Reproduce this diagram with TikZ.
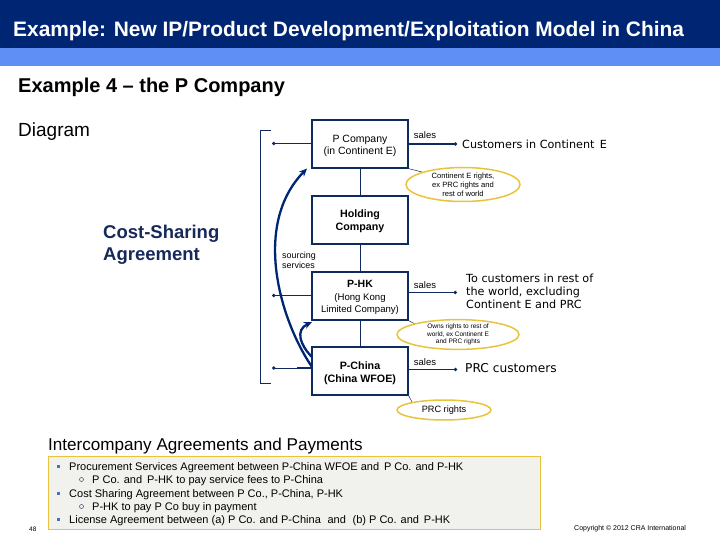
\documentclass[tikz,border=0pt]{standalone}
\usepackage{fontspec}
\setmainfont{Liberation Sans}
\newfontfamily\dvfont{DejaVu Sans}
\usetikzlibrary{arrows.meta,shapes.geometric}
\definecolor{navy}{HTML}{002673}
\definecolor{lineblue}{HTML}{0F2A5C}
\definecolor{band}{HTML}{5F8FF5}
\definecolor{gold}{HTML}{E8C33C}
\definecolor{panel}{HTML}{F1F1EE}
\definecolor{csblue}{HTML}{16295A}
\tikzset{
  x=1pt,y=-1pt,
  entity/.style={draw=lineblue,line width=1.3pt,fill=white,minimum width=96pt,minimum height=48pt,align=center,inner sep=0pt,font=\fontsize{10.5}{12}\selectfont},
  entityb/.style={entity,font=\bfseries\fontsize{10.7}{13}\selectfont},
  conn/.style={draw=lineblue,line width=0.9pt},
  flow/.style={draw=lineblue,line width=1pt,-{Circle[length=3.5pt]}},
  flowthick/.style={draw=lineblue,line width=1.7pt,-{Circle[length=3pt]}},
  stub/.style={draw=lineblue,line width=1.7pt},
  rights/.style={draw=gold,line width=1.5pt,ellipse,fill=white,align=center,inner sep=0pt},
  leader/.style={draw=lineblue,line width=0.5pt},
  small/.style={font=\fontsize{9.5}{10}\selectfont,inner sep=0pt},
  dest/.style={font=\dvfont\fontsize{11.2}{13}\selectfont,anchor=west,align=left,inner sep=0pt},
  curved/.style={draw=navy,line width=2.3pt,-{Stealth[length=8pt,width=7pt]}},
  heading/.style={anchor=west,inner sep=0pt},
  panelitem/.style={anchor=west,inner sep=0pt,font=\fontsize{11}{13}\selectfont}
}
\newcommand{\hkline}[1]{{\fontsize{9.6}{12}\selectfont #1}}
\newcommand{\dn}[1]{\rule{0pt}{#1pt}}
\begin{document}
\begin{tikzpicture}
\useasboundingbox (0,0) rectangle (720,540);
\fill[navy] (0,0) rectangle (720,48);
\fill[band] (0,48) rectangle (720,66);
\node[heading,text=white,font=\bfseries\fontsize{20.9}{24}\selectfont] (title) at (13,31) {Example: New IP/Product Development/Exploitation Model in China};
\node[heading,font=\bfseries\fontsize{20}{24}\selectfont] (sub) at (18,87) {Example 4 -- the P Company};
\node[heading,font=\fontsize{19}{22}\selectfont] (diag) at (18,132) {Diagram};
\node[heading,align=left,text=csblue,font=\bfseries\fontsize{18.5}{22}\selectfont] (cs) at (103,245) {Cost-Sharing\\Agreement};

\coordinate (bt) at (271,130); \coordinate (bb) at (271,383);
\draw[lineblue,line width=0.7pt] (bt) -- (260,130) -- (260,383) -- (bb);

\node[entity] (pco) at (360,144) {\dn{12}P Company\\(in Continent E)};
\node[entityb] (hold) at (360,220) {\dn{10}Holding\\Company};
\node[entity] (phk) at (360,296) {\dn{10}\textbf{P-HK}\\[1pt]\hkline{(Hong Kong}\\\hkline{Limited Company)}};
\node[entityb] (pcn) at (360,371) {\dn{12}P-China\\(China WFOE)};

\draw[conn] (pco) -- (hold);
\draw[conn] (hold) -- (phk);
\draw[conn] (phk) -- (pcn);

\coordinate (l1) at (272,143.5); \coordinate (l2) at (272,295.5); \coordinate (l3) at (272,368);
\coordinate (m1) at (297,143.5); \coordinate (m2) at (297,295.5); \coordinate (m3) at (297,368);
\draw[flow] (pco.west |- l1) -- (l1);
\draw[flow] (phk.west |- l2) -- (l2);
\draw[flow] (pcn.west |- l3) -- (l3);
\draw[stub] (pco.west |- m1) -- (m1);
\draw[stub] (phk.west |- m2) -- (m2);
\draw[stub] (pcn.west |- m3) -- (m3);

\node[dest] (c1) at (462,144) {Customers in Continent\, E};
\node[dest] (c2) at (466,291.5) {To customers in rest of\\the world, excluding\\Continent E and PRC};
\node[dest,font=\dvfont\fontsize{12.2}{14}\selectfont] (c3) at (465,368.5) {PRC customers};
\coordinate (e1) at (457,144); \coordinate (e2) at (457,292.5); \coordinate (e3) at (457,369.5);
\draw[flowthick] (pco.east |- e1) -- (e1);
\draw[flow] (phk.east |- e2) -- (e2);
\draw[flowthick] (pcn.east |- e3) -- (e3);

\node[small] (s1) at (425,135) {sales};
\node[small] (s2) at (425,285) {sales};
\node[small] (s3) at (425,362) {sales};
\node[small,anchor=west,align=left,font=\fontsize{8.9}{10}\selectfont] (src) at (282,260) {sourcing\\services};

\coordinate (a1) at (312,367); \coordinate (a2) at (307,168.5);
\coordinate (b1) at (312,357); \coordinate (b2) at (312,322);
\draw[curved] (a1) .. controls (280,320) and (252,225) .. (a2);
\draw[curved] (b1) .. controls (300,345) and (295,330) .. (b2);

\coordinate (q1) at (422,172); \coordinate (q2) at (415,324); \coordinate (q3) at (412,402);
\draw[leader] (pco.south east) -- (q1);
\draw[leader] (phk.south east) -- (q2);
\draw[leader] (pcn.south east) -- (q3);
\node[rights,minimum width=114pt,minimum height=34pt,font=\fontsize{7.6}{9}\selectfont] (r1) at (463,184.5) {Continent E rights,\\ex PRC rights and\\rest of world};
\node[rights,minimum width=122pt,minimum height=26pt,font=\fontsize{6.5}{7.5}\selectfont] (r2) at (458,334.5) {Owns rights to rest of\\world, ex Continent E\\and PRC rights};
\node[rights,minimum width=94pt,minimum height=20pt,font=\fontsize{9.2}{10}\selectfont] (r3) at (444,410) {PRC rights};

\node[heading,font=\fontsize{17.1}{20}\selectfont] (iap) at (48,446) {Intercompany Agreements and Payments};
\draw[draw=gold,fill=panel,line width=0.6pt] (48,456) rectangle (540,529);
\foreach \y/\tx in {466/{Procurement Services Agreement between P-China WFOE and\, P Co. and P-HK},
  493/{Cost Sharing Agreement between P Co., P-China, P-HK},
  519.5/{License Agreement between (a) P Co. and P-China\,\, and\,\, (b) P Co. and\, P-HK}}{
  \fill[band!70!navy] (56.5,\y-1.5) rectangle (59.5,\y+1.5);
  \node[panelitem] at (69,\y+1.5) {\tx};
}
\foreach \y/\tx in {479.5/{P Co. and\, P-HK to pay service fees to P-China},
  506.5/{P-HK to pay P Co buy in payment}}{
  \draw[lineblue,line width=0.4pt] (81.5,\y) circle (2pt);
  \node[panelitem] at (92,\y+1.5) {\tx};
}
\node[heading,font=\fontsize{6.5}{7}\selectfont] (pg) at (29,529) {48};
\node[heading,font=\fontsize{7}{8}\selectfont] (cr) at (574,529) {Copyright © 2012 CRA International};
\end{tikzpicture}
\end{document}
